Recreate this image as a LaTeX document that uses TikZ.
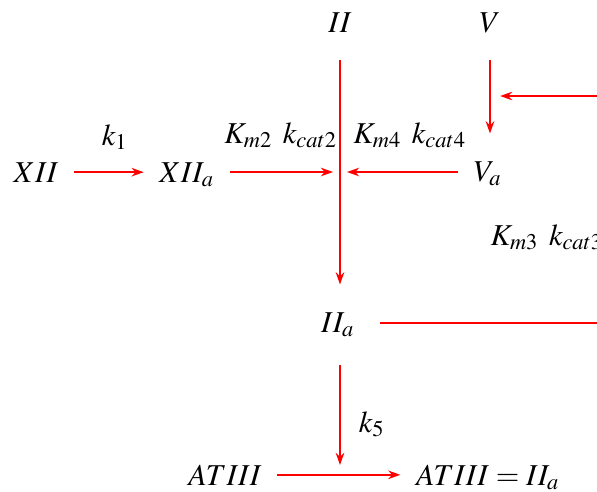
\documentclass[tikz,border=0pt]{standalone}
\usepackage{mathptmx}
\usepackage{tikz}
\usetikzlibrary{arrows.meta,positioning,calc}

\begin{document}
\begin{tikzpicture}[
    x=0.33pt, y=-0.33pt,
    species/.style={anchor=base, inner xsep=5pt, inner ysep=9pt},
    rate/.style={anchor=base, inner sep=0pt},
    arrow/.style={-{Stealth[length=4pt, width=2.8pt]}, line width=0.7pt, draw=red},
    link/.style={line width=0.7pt, draw=red}
]
\useasboundingbox (0,0) rectangle (597,491);
% species
\node[species] (xii) at (36,182) {$XII$};
\node[species] (xiia) at (187,182) {$XII_a$};
\node[species] (ii) at (340,32) {$II$};
\node[species] (v) at (490,32) {$V$};
\node[species] (va) at (488,181) {$V_a$};
\node[species] (iia) at (338,332) {$II_a$};
\node[species] (at) at (225,485) {$ATIII$};
\node[species] (atiia) at (488,485) {$ATIII = II_a$};
% rates
\node[rate] (k1) at (115,145) {$k_1$};
\node[rate] (km2) at (281,143) {$K_{m2}$ $k_{cat2}$};
\node[rate] (km4) at (410,143) {$K_{m4}$ $k_{cat4}$};
\node[rate, anchor=base west] (km3) at (490,245) {$K_{m3}$ $k_{cat3}$};
\node[rate] (k5) at (372,432) {$k_5$};
% junctions
\coordinate (jn) at (340,172);
\coordinate (vj) at (491,96);
\coordinate (hit) at (340,475);
\coordinate (corner) at (640,323);
\draw[arrow] (xii.east) -- (xii.east -| xiia.west);
\draw[arrow, shorten >=2.3pt] (jn -| xiia.east) -- (jn);
\draw[arrow, shorten >=2.3pt] (jn -| va.west) -- (jn);
\draw[arrow] (ii.south) -- (ii |- iia.north);
\draw[arrow] (v.south) -- (v |- va.north);
\draw[link, shorten <=3pt] (corner -| iia.east) -- (corner);
\draw[arrow, shorten >=3pt] (corner) |- (vj);
\draw[arrow, shorten >=3.3pt] (ii |- iia.south) -- (hit);
\draw[arrow] (at.east) -- (at.east -| atiia.west);
\end{tikzpicture}
\end{document}
